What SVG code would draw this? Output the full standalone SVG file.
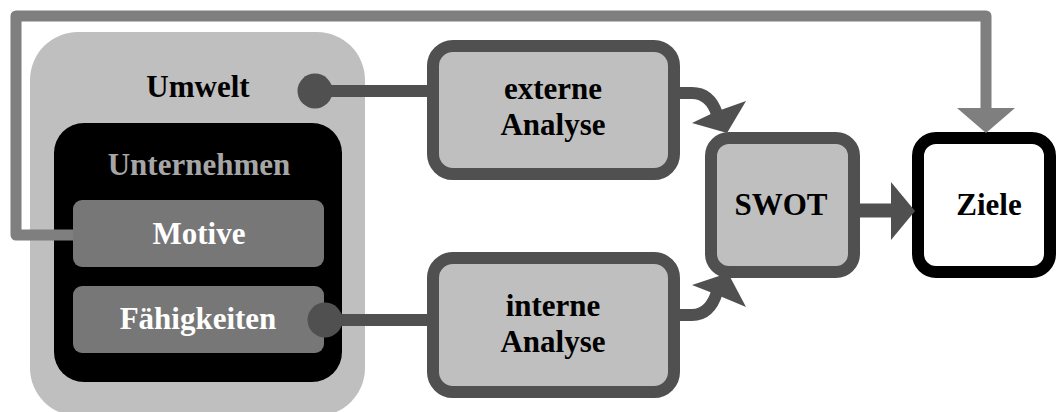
<svg xmlns="http://www.w3.org/2000/svg" width="1057" height="412" viewBox="0 0 1057 412">
  <style>
    text { font-family: "Liberation Serif", "Times New Roman", serif; font-weight: bold; font-size: 31px; text-anchor: middle; }
    .dark { fill: #000; }
    .box { fill: #bfbfbf; stroke: #505050; stroke-width: 12; }
    .link { fill: none; stroke: #505050; stroke-width: 12; }
    .head { fill: #505050; }
  </style>
  <rect width="1057" height="412" fill="#fff"/>

  <!-- environment with the company inside -->
  <g id="umwelt">
    <rect x="30" y="32" width="335" height="384" rx="48" fill="#bfbfbf"/>
    <text x="198" y="97" class="dark">Umwelt</text>
  </g>
  <g id="unternehmen">
    <rect x="54" y="123" width="288" height="259" rx="30" fill="#000"/>
    <text x="199" y="175" fill="#a6a6a6">Unternehmen</text>
  </g>
  <g id="motive">
    <rect x="73" y="200" width="251" height="67" rx="9" fill="#777"/>
    <text x="199" y="244" fill="#fff">Motive</text>
  </g>
  <g id="faehigkeiten">
    <rect x="73" y="286" width="251" height="67" rx="9" fill="#777"/>
    <text x="198" y="329" fill="#fff">Fähigkeiten</text>
  </g>

  <!-- analysis steps -->
  <g id="externe-analyse">
    <rect class="box" x="433" y="46" width="241" height="128" rx="20"/>
    <text x="553" y="99" class="dark">externe</text>
    <text x="553" y="135" class="dark">Analyse</text>
  </g>
  <g id="interne-analyse">
    <rect class="box" x="433" y="258" width="241" height="134" rx="20"/>
    <text x="553" y="316" class="dark">interne</text>
    <text x="553" y="352" class="dark">Analyse</text>
  </g>
  <g id="swot">
    <rect class="box" x="711" y="138" width="143" height="134" rx="18"/>
    <text x="781" y="215" class="dark">SWOT</text>
  </g>
  <g id="ziele">
    <rect x="918" y="138" width="132" height="134" rx="18" fill="#fff" stroke="#000" stroke-width="12"/>
    <text x="989" y="215" class="dark">Ziele</text>
  </g>

  <!-- connectors -->
  <g id="connectors">
    <!-- feedback from motives to goals -->
    <path d="M73 235 H16 V16 H986 V110" fill="none" stroke="#7f7f7f" stroke-width="11" stroke-linejoin="round"/>
    <polygon points="957,108 1015,108 986,133" fill="#7f7f7f"/>

    <!-- environment to external analysis -->
    <path class="link" d="M315 91 H433"/>
    <circle class="head" cx="315" cy="91" r="17.5"/>

    <!-- capabilities to internal analysis -->
    <path class="link" d="M325 320 H433"/>
    <circle class="head" cx="325" cy="320" r="17.5"/>

    <!-- analyses to SWOT -->
    <path class="link" d="M674 93 H692 Q710 93 717 114"/>
    <polygon class="head" points="692,123 715,112 746,101 727,133"/>
    <path class="link" d="M674 315 H692 Q710 315 717 292"/>
    <polygon class="head" points="692,285 715,294 746,307 728,273"/>

    <!-- SWOT to goals -->
    <path d="M860 210.5 H893" stroke="#505050" stroke-width="14"/>
    <polygon class="head" points="891,182 915,211 891,240"/>
  </g>
</svg>
